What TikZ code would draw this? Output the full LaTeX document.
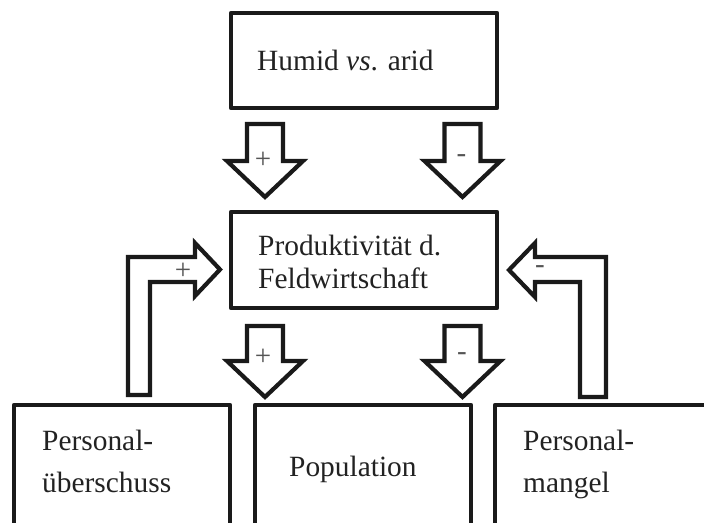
\documentclass[tikz,border=0pt]{standalone}
\usepackage{fontspec}
\setmainfont{Liberation Serif}
\definecolor{ink}{HTML}{1A1A1A}
\definecolor{txt}{HTML}{222222}
\definecolor{sign}{HTML}{555555}
\begin{document}
\begin{tikzpicture}[x=1pt,y=-1pt,
  boxline/.style={draw=ink,line width=4.4pt,line join=round},
  blockarrow/.style={draw=ink,fill=white,line width=4.2pt,line join=miter,miter limit=10},
  label/.style={anchor=base west,inner sep=0pt,text=txt,font=\fontsize{29.4}{33}\selectfont},
  signlabel/.style={inner sep=0pt,text=sign,font=\fontsize{29}{30}\selectfont}]
\useasboundingbox (0,0) rectangle (704,522);
\clip (0,0) rectangle (704,522);
% boxes
\draw[boxline] (231,13) rectangle (497,108);
\draw[boxline] (231,212) rectangle (497,308);
\draw[boxline] (14,530) -- (14,405) -- (230,405) -- (230,530);
\draw[boxline] (255,530) -- (255,405) -- (471,405) -- (471,530);
\draw[boxline] (495,530) -- (495,405) -- (712,405);
% texts
\node[label] (humid) at (257,70) {Humid \textit{vs}. arid};
\node[label] (prodA) at (258,255) {Produktivität d.};
\node[label] (prodB) at (258,288) {Feldwirtschaft};
\node[label] (persLA) at (42,450) {Personal-};
\node[label] (persLB) at (42,492) {überschuss};
\node[label] (popu) at (289,476) {Population};
\node[label] (persRA) at (523,450) {Personal-};
\node[label] (persRB) at (523,492) {mangel};
% down arrows
\draw[blockarrow] (247,124) -- (283,124) -- (283,161) -- (303,161) -- (265,197) -- (227,161) -- (247,161) -- cycle;
\draw[blockarrow] (444.5,124) -- (480.5,124) -- (480.5,161) -- (500.5,161) -- (462.5,197) -- (424.5,161) -- (444.5,161) -- cycle;
\draw[blockarrow] (247,326) -- (283,326) -- (283,361) -- (303,361) -- (265,397) -- (227,361) -- (247,361) -- cycle;
\draw[blockarrow] (444.5,326) -- (480.5,326) -- (480.5,361) -- (500.5,361) -- (462.5,397) -- (424.5,361) -- (444.5,361) -- cycle;
% bent arrows
\draw[blockarrow] (128,395) -- (128,257) -- (195,257) -- (195,243) -- (220,269.5) -- (195,296) -- (195,282) -- (150,282) -- (150,395) -- cycle;
\draw[blockarrow] (606,397) -- (606,257) -- (535,257) -- (535,243) -- (509,270) -- (535,297) -- (535,282) -- (580,282) -- (580,397) -- cycle;
% signs
\node[signlabel] (s1) at (263,160) {+};
\node[signlabel] (s2) at (461.5,159) {-};
\node[signlabel] (s3) at (263,357) {+};
\node[signlabel] (s4) at (462,357) {-};
\node[signlabel] (s5) at (183,271) {+};
\node[signlabel] (s6) at (540,270) {-};
\end{tikzpicture}
\end{document}
